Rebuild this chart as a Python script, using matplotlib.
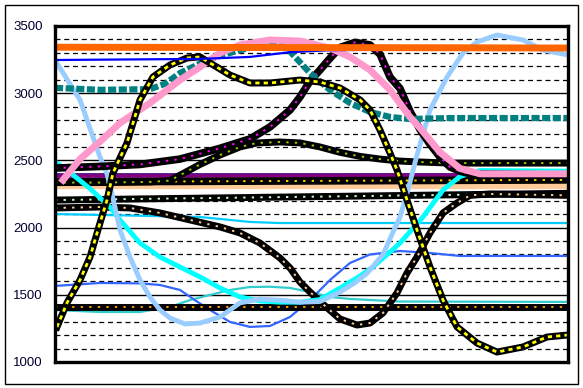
import matplotlib
matplotlib.use("Agg")
import matplotlib.pyplot as plt
from matplotlib.patches import Rectangle

# ---------------- data (x = unlabeled index 0..513, y = value) ----------------
orange_x = [0, 200, 400, 513]
orange_y = [3342, 3340, 3338, 3336]

bluetop_x = [0, 145, 195, 235, 275, 350, 513]
bluetop_y = [3247, 3255, 3270, 3305, 3320, 3325, 3325]

teal_x = [0, 45, 95, 110, 125, 145, 165, 185, 205, 225, 235, 255, 275, 295, 315, 335, 355, 395, 513]
teal_y = [3040, 3025, 3030, 3070, 3150, 3220, 3280, 3320, 3355, 3360, 3310, 3150, 3024, 2927, 2860, 2823, 2808, 2815, 2815]

pink_x = [8, 25, 45, 65, 95, 125, 145, 165, 185, 215, 245, 275, 295, 315, 335, 355, 365, 385, 405, 425, 513]
pink_y = [2354, 2510, 2640, 2778, 2927, 3098, 3195, 3299, 3359, 3396, 3388, 3336, 3270, 3173, 3024, 2823, 2741, 2560, 2440, 2400, 2400]

lblue_x = [0, 25, 45, 52, 57, 65, 75, 85, 95, 105, 115, 130, 145, 165, 185, 205, 225, 245, 265, 285, 300,
           312, 328, 337, 345, 353, 362, 375, 392, 408, 422, 442, 468, 488, 513]
lblue_y = [3247, 2950, 2525, 2400, 2250, 1982, 1781, 1610, 1484, 1387, 1327, 1283, 1290, 1335, 1440, 1468, 1460,
           1445, 1450, 1520, 1590, 1660, 1800, 1950, 2080, 2280, 2540, 2875, 3120, 3299, 3381, 3433, 3396, 3321, 3284]

aqua_x = [0, 15, 35, 55, 65, 85, 105, 125, 145, 165, 185, 205, 225, 245, 265, 285, 305, 318, 345, 368, 388, 405, 425, 513]
aqua_y = [2490, 2410, 2290, 2153, 2057, 1885, 1781, 1707, 1633, 1551, 1484, 1454, 1445, 1445, 1465, 1550, 1640,
          1707, 1885, 2079, 2280, 2380, 2425, 2420]

yellow_x = [2, 12, 25, 35, 45, 52, 58, 72, 85, 98, 115, 132, 145, 155, 175, 195, 215, 245, 265, 285, 305, 315,
            325, 335, 342, 352, 362, 375, 388, 402, 422, 442, 468, 492, 513]
yellow_y = [1260, 1440, 1610, 1781, 2034, 2205, 2406, 2630, 2950, 3121, 3210, 3262, 3270, 3225, 3135, 3076, 3076,
            3098, 3083, 3039, 2950, 2875, 2726, 2555, 2429, 2205, 1982, 1707, 1461, 1261, 1141, 1074, 1112, 1186, 1201]

magenta_x = [0, 45, 85, 125, 165, 195, 215, 235, 245, 255, 265, 275, 285, 300, 315, 325, 335, 345, 355, 365,
             375, 385, 395, 405, 415, 513]
magenta_y = [2443, 2455, 2470, 2510, 2590, 2660, 2749, 2875, 2972, 3090, 3173, 3260, 3340, 3378, 3359, 3290,
             3120, 3035, 2865, 2730, 2620, 2525, 2451, 2420, 2400, 2390]

olive_x = [0, 45, 95, 115, 125, 145, 165, 185, 202, 225, 245, 265, 285, 305, 325, 345, 365, 395, 513]
olive_y = [2335, 2335, 2340, 2350, 2390, 2470, 2540, 2600, 2630, 2637, 2630, 2600, 2560, 2530, 2510, 2495, 2488, 2480, 2480]

peachblk_x = [0, 45, 75, 105, 135, 165, 185, 205, 225, 235, 245, 255, 268, 285, 302, 315, 328, 342, 352, 362,
              375, 388, 402, 415, 435, 513]
peachblk_y = [2146, 2153, 2146, 2109, 2057, 2005, 1960, 1885, 1774, 1700, 1595, 1521, 1430, 1320, 1275, 1290,
              1365, 1514, 1662, 1781, 1960, 2109, 2183, 2240, 2250, 2240]

cyan_x = [0, 145, 195, 225, 513]
cyan_y = [2101, 2079, 2042, 2034, 2034]

royal_x = [0, 45, 85, 105, 125, 140, 155, 175, 195, 215, 235, 255, 275, 295, 315, 345, 375, 405, 513]
royal_y = [1566, 1588, 1585, 1573, 1536, 1460, 1387, 1298, 1261, 1268, 1335, 1460, 1610, 1737, 1800, 1826, 1811, 1789, 1789]

turq_x = [0, 45, 85, 115, 135, 155, 175, 195, 215, 235, 255, 275, 295, 345, 513]
turq_y = [1387, 1372, 1372, 1410, 1461, 1499, 1536, 1558, 1560, 1551, 1521, 1484, 1469, 1450, 1447]

band_x = [0, 513]
navy_y = [2400, 2400]
purple_y = [2385, 2388]
gold_y = [2340, 2355]
peach_y = [2310, 2310]
lgreen_y = [2205, 2255]
orangeband_y = [1410, 1410]

yticks = [1000, 1500, 2000, 2500, 3000, 3500]
ytick_labels = ["1000", "1500", "2000", "2500", "3000", "3500"]

# ---------------- figure ----------------
W, H = 583, 388
fig = plt.figure(figsize=(W / 100, H / 100), dpi=100)
fig.patch.set_facecolor("white")
fig.patches.append(Rectangle((5 / W, 1 - 384 / H), 573 / W, 379 / H, transform=fig.transFigure,
                             fill=False, edgecolor="black", linewidth=1.0))

ax = fig.add_axes([55 / W, 1 - 362 / H, (568 - 55) / W, (362 - 26) / H])
ax.set_xlim(0, 513)
ax.set_ylim(1000, 3500)

for v in range(1100, 3500, 100):
    if v % 500 == 0:
        ax.axhline(v, color="black", lw=1.0, zorder=0)
    else:
        ax.axhline(v, color="black", lw=0.9, ls=(0, (4, 3)), zorder=0)

J = dict(solid_joinstyle="round", dash_joinstyle="round")


def banded(x, y, color, z, lw=5.0):
    ax.plot(x, y, color="black", lw=lw, solid_capstyle="butt", zorder=z, **J)
    ax.plot(x, y, color=color, lw=1.4, ls=(0, (1.2, 3.2)), zorder=z + 0.01, **J)


# thin lines
ax.plot(cyan_x, cyan_y, color="#00CCFF", lw=1.6, zorder=2, **J)
ax.plot(turq_x, turq_y, color="#33CCCC", lw=1.6, zorder=2, **J)
ax.plot(royal_x, royal_y, color="#3366FF", lw=1.6, zorder=2.1, **J)

# flat bands
ax.plot(band_x, peach_y, color="#FFCC99", lw=4.5, zorder=2.2)
ax.plot(band_x, navy_y, color="#000080", lw=1.8, zorder=2.3)
ax.plot(band_x, purple_y, color="#800080", lw=3.0, zorder=2.4)
banded(band_x, gold_y, "#FFCC00", 2.5, lw=5.5)
banded(band_x, lgreen_y, "#CCFFCC", 2.6)
banded(band_x, orangeband_y, "#FF9900", 2.7)
banded(peachblk_x, peachblk_y, "#FFCC99", 2.8)
banded(olive_x, olive_y, "#99CC00", 2.9)

# curves
ax.plot(aqua_x, aqua_y, color="#00FFFF", lw=3.5, zorder=3.0, **J)
ax.plot(lblue_x, lblue_y, color="#99CCFF", lw=3.5, zorder=3.1, **J)
banded(magenta_x, magenta_y, "#FF00FF", 3.2, lw=5.5)
ax.plot(teal_x, teal_y, color="#008080", lw=4.5, ls=(0, (1.3, 0.4)), zorder=3.3, **J)
ax.plot(pink_x, pink_y, color="#FF99CC", lw=5.0, zorder=3.4, **J)
ax.plot(yellow_x, yellow_y, color="black", lw=5.0, zorder=3.5, **J)
ax.plot(yellow_x, yellow_y, color="#FFFF00", lw=2.0, ls=(0, (1.5, 1.5)), zorder=3.51, **J)
ax.plot(bluetop_x, bluetop_y, color="#0000FF", lw=1.6, zorder=3.6, **J)
ax.plot(orange_x, orange_y, color="#FF6600", lw=5.0, zorder=3.7)

ax.set_xticks([])
ax.set_yticks(yticks)
ax.set_yticklabels(ytick_labels, fontfamily="Liberation Sans", fontsize=9.5, color="#000033")
ax.tick_params(axis="y", length=0, pad=9)
for s in ax.spines.values():
    s.set_linewidth(2.4)
    s.set_color("black")
    s.set_zorder(5)

fig.savefig("out.png", dpi=100, facecolor="white")
